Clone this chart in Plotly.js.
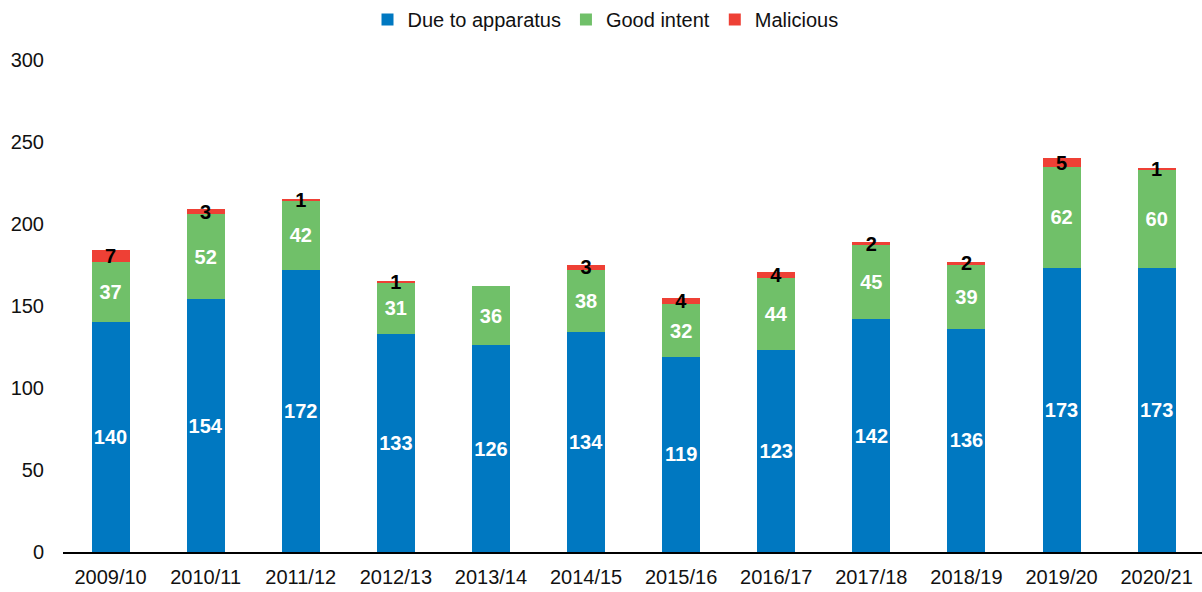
<!DOCTYPE html>
<html>
<head>
<meta charset="utf-8">
<script src="https://cdn.plot.ly/plotly-3.0.1.min.js"></script>
<style>html,body{margin:0;padding:0;background:#fff;}#chart{width:1202px;height:592px;}</style>
</head>
<body>
<div id="chart"></div>
<script>
const years = ["2009/10","2010/11","2011/12","2012/13","2013/14","2014/15","2015/16","2016/17","2017/18","2018/19","2019/20","2020/21"];
const dueToApparatus = [140,154,172,133,126,134,119,123,142,136,173,173];
const goodIntent = [37,52,42,31,36,38,32,44,45,39,62,60];
const malicious = [7,3,1,1,0,3,4,4,2,2,5,1];
const yTicks = [0,50,100,150,200,250,300];

const labelFont = {family: "Liberation Sans, Arial, sans-serif", size: 20};
function lbl(arr){ return arr.map(v => v > 0 ? String(v) : ""); }

const common = {type: "bar", x: years, textposition: "inside", insidetextanchor: "middle",
  textangle: 0, constraintext: "none", hoverinfo: "skip"};

const traces = [
  Object.assign({}, common, {name: "Due to apparatus", y: dueToApparatus, text: lbl(dueToApparatus),
    marker: {color: "#0078c1", line: {width: 0}}, textfont: Object.assign({color: "#ffffff", weight: "bold"}, labelFont)}),
  Object.assign({}, common, {name: "Good intent", y: goodIntent, text: lbl(goodIntent),
    marker: {color: "#70c069", line: {width: 0}}, textfont: Object.assign({color: "#ffffff", weight: "bold"}, labelFont)}),
  Object.assign({}, common, {name: "Malicious", y: malicious, text: lbl(malicious),
    marker: {color: "#ee4035", line: {width: 0}}, textfont: Object.assign({color: "#000000", weight: "bold"}, labelFont)})
];

const layout = {
  width: 1202, height: 592,
  margin: {l: 63, r: 0, t: 60, b: 40},
  paper_bgcolor: "#ffffff", plot_bgcolor: "#ffffff",
  barmode: "stack", bargap: 0.6,
  font: {family: "Liberation Sans, Arial, sans-serif", size: 20, color: "#111111"},
  showlegend: true,
  legend: {orientation: "h", x: 0.4763, xanchor: "center", y: 1, yref: "container", yanchor: "top",
    font: {size: 20, color: "#111111"}, traceorder: "normal", itemwidth: 30, tracegroupgap: 0},
  xaxis: {type: "category", range: [-0.5, 11.477], showgrid: false, zeroline: false,
    showline: true, linecolor: "#000000", linewidth: 2, ticks: "", ticklabelstandoff: 6,
    tickfont: {size: 20, color: "#111111"}, fixedrange: true},
  yaxis: {range: [0, 300], tickvals: yTicks, ticktext: yTicks.map(String), showgrid: false,
    zeroline: false, showline: false, ticks: "", ticklabelstandoff: 18,
    tickfont: {size: 20, color: "#111111"}, fixedrange: true}
};

Plotly.newPlot("chart", traces, layout, {displayModeBar: false, staticPlot: true});
</script>
</body>
</html>
